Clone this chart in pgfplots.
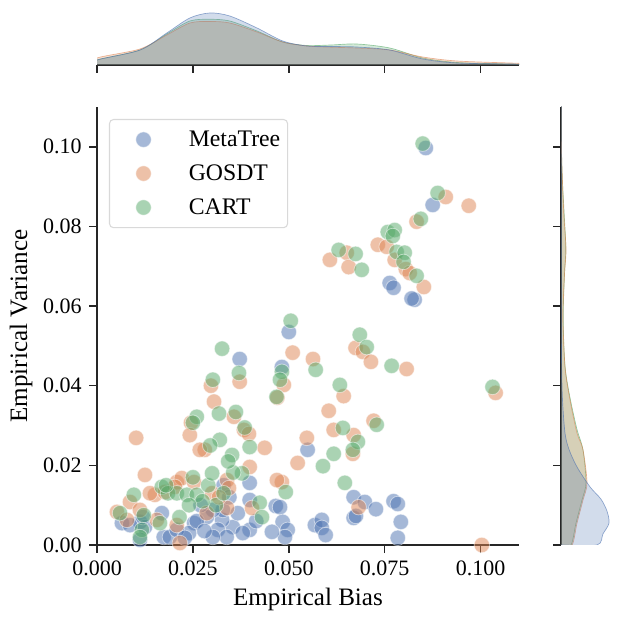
\documentclass[border=0pt]{standalone}
\usepackage{fontspec}
\setmainfont{Liberation Serif}
\usepackage{pgfplots}
\pgfplotsset{compat=1.18}
\definecolor{sbblue}{RGB}{76,114,176}
\definecolor{sborange}{RGB}{221,132,82}
\definecolor{sbgreen}{RGB}{85,168,104}
\definecolor{spine}{RGB}{38,38,38}
\newcommand{\fnt}{\fontsize{16.5}{19}\selectfont}
\newcommand{\lfnt}{\fontsize{18.8}{22}\selectfont}
\newcommand{\gfnt}{\fontsize{17.8}{21}\selectfont}
\pgfplotsset{
  sbspine/.style={axis line style={-, line width=1.1pt, spine}, tick style={line width=1.1pt, spine}, major tick length=6pt, tick align=outside},
  pts/.style={only marks, mark=*, mark size=5.8pt, mark options={fill=#1, draw=white, line width=0.6pt, opacity=0.5}},
  kde/.style={draw=#1, line width=0.5pt, draw opacity=0.6, fill=#1, fill opacity=0.25, smooth, tension=0.5},
}
\begin{document}
\begin{tikzpicture}
\useasboundingbox (0,0) rectangle (467.25pt,467.25pt);
\begin{axis}[at={(72.75pt,58.5pt)}, anchor=south west, scale only axis,
  width=316.5pt, height=328.5pt, xmin=0, xmax=0.11, ymin=0, ymax=0.11,
  axis x line*=bottom, axis y line*=left, sbspine,
  xtick={0,0.025,0.05,0.075,0.1}, xticklabels={0.000,0.025,0.050,0.075,0.100},
  ytick={0,0.02,0.04,0.06,0.08,0.1}, yticklabels={0.00,0.02,0.04,0.06,0.08,0.10},
  tick label style={font=\fnt},
  xticklabel style={yshift=-2.5pt}, yticklabel style={xshift=-2pt},
  label style={font=\lfnt},
  xlabel={Empirical Bias}, ylabel={Empirical Variance},
  xlabel style={at={(axis description cs:0.5,-0.1233)}, anchor=center},
  ylabel style={at={(axis description cs:-0.180,0.5)}, anchor=center},
  legend cell align=left,
  legend image code/.code={\path[draw=none,fill=none] (0pt,-6pt) rectangle (54pt,6pt); \draw[#1] plot coordinates {(22pt,0pt)};},
  legend style={at={(0.0284,0.9726)}, anchor=north west, draw=black!15, line width=0.8pt, rounded corners=3pt, font=\gfnt, inner xsep=3.5pt, inner ysep=6.5pt, row sep=8.2pt},
]
\addplot[pts=sbblue] coordinates {
(0.0857,0.0997) (0.0875,0.0854) (0.0763,0.0658) (0.0773,0.0646) (0.0828,0.0616) (0.0820,0.0619)
(0.0372,0.0467) (0.0500,0.0535) (0.0482,0.0447) (0.0549,0.0239) (0.0398,0.0156) (0.0466,0.0098)
(0.0669,0.0120) (0.0698,0.0108) (0.0727,0.0090) (0.0669,0.0068) (0.0675,0.0073) (0.0773,0.0110)
(0.0784,0.0103) (0.0792,0.0058) (0.0784,0.0018) (0.0477,0.0095) (0.0484,0.0058) (0.0497,0.0038)
(0.0490,0.0020) (0.0568,0.0050) (0.0586,0.0063) (0.0586,0.0043) (0.0596,0.0025) (0.0456,0.0033)
(0.0354,0.0045) (0.0398,0.0038) (0.0380,0.0030) (0.0326,0.0063) (0.0315,0.0038) (0.0338,0.0020)
(0.0302,0.0020) (0.0328,0.0088) (0.0367,0.0080) (0.0302,0.0088) (0.0286,0.0070) (0.0398,0.0113)
(0.0330,0.0150) (0.0253,0.0055) (0.0240,0.0030) (0.0174,0.0020) (0.0190,0.0020) (0.0208,0.0038)
(0.0229,0.0018) (0.0169,0.0080) (0.0112,0.0058) (0.0125,0.0045) (0.0065,0.0055) (0.0086,0.0050)
(0.0120,0.0070) (0.0270,0.0100) (0.0260,0.0060) (0.0345,0.0120) (0.0112,0.0013) (0.0415,0.0060)
(0.0280,0.0035)
};
\addlegendentry{MetaTree}
\addplot[pts=sborange] coordinates {
(0.0909,0.0874) (0.0969,0.0852) (0.0833,0.0812) (0.0732,0.0754) (0.0755,0.0749) (0.0776,0.0716)
(0.0805,0.0693) (0.0815,0.0683) (0.0852,0.0648) (0.0651,0.0734) (0.0607,0.0716) (0.0656,0.0698)
(0.0510,0.0483) (0.0674,0.0495) (0.0693,0.0485) (0.0714,0.0460) (0.0807,0.0442) (0.0563,0.0467)
(0.0487,0.0402) (0.0470,0.0370) (0.0643,0.0374) (0.0604,0.0337) (0.0721,0.0312) (0.0617,0.0289)
(0.0547,0.0269) (0.0669,0.0276) (0.0667,0.0229) (0.0523,0.0206) (0.0482,0.0158) (0.0682,0.0095)
(0.1003,0.0000) (0.1039,0.0382) (0.0372,0.0410) (0.0297,0.0400) (0.0305,0.0360) (0.0357,0.0322)
(0.0245,0.0307) (0.0383,0.0289) (0.0396,0.0279) (0.0242,0.0276) (0.0102,0.0269) (0.0437,0.0244)
(0.0281,0.0239) (0.0268,0.0239) (0.0398,0.0196) (0.0404,0.0093) (0.0469,0.0163) (0.0125,0.0176)
(0.0052,0.0083) (0.0078,0.0063) (0.0086,0.0108) (0.0112,0.0088) (0.0151,0.0126) (0.0138,0.0130)
(0.0177,0.0133) (0.0208,0.0158) (0.0221,0.0168) (0.0253,0.0158) (0.0208,0.0050) (0.0216,0.0005)
(0.0339,0.0163) (0.0344,0.0143) (0.0339,0.0093) (0.0286,0.0080) (0.0156,0.0063) (0.0203,0.0146)
(0.0300,0.0130) (0.0318,0.0120)
};
\addlegendentry{GOSDT}
\addplot[pts=sbgreen] coordinates {
(0.0849,0.1008) (0.0888,0.0884) (0.0844,0.0819) (0.0758,0.0786) (0.0776,0.0791) (0.0771,0.0776)
(0.0781,0.0736) (0.0802,0.0734) (0.0799,0.0711) (0.0833,0.0676) (0.0630,0.0741) (0.0674,0.0731)
(0.0690,0.0691) (0.0505,0.0563) (0.0685,0.0528) (0.0703,0.0497) (0.0768,0.0450) (0.0570,0.0440)
(0.0482,0.0435) (0.0477,0.0415) (0.0468,0.0372) (0.0633,0.0402) (0.0729,0.0302) (0.0641,0.0294)
(0.0680,0.0259) (0.0667,0.0239) (0.0617,0.0229) (0.0589,0.0198) (0.0492,0.0133) (0.0646,0.0156)
(0.1031,0.0397) (0.0326,0.0493) (0.0370,0.0432) (0.0302,0.0415) (0.0318,0.0330) (0.0362,0.0334)
(0.0260,0.0322) (0.0250,0.0307) (0.0320,0.0264) (0.0385,0.0295) (0.0352,0.0226) (0.0398,0.0246)
(0.0378,0.0180) (0.0355,0.0182) (0.0424,0.0106) (0.0430,0.0070) (0.0096,0.0126) (0.0060,0.0080)
(0.0122,0.0075) (0.0117,0.0038) (0.0112,0.0020) (0.0164,0.0055) (0.0169,0.0146) (0.0185,0.0130)
(0.0208,0.0130) (0.0234,0.0126) (0.0260,0.0126) (0.0180,0.0150) (0.0250,0.0170) (0.0290,0.0150)
(0.0300,0.0180) (0.0310,0.0100) (0.0275,0.0110) (0.0330,0.0130) (0.0295,0.0250) (0.0342,0.0210)
(0.0215,0.0070) (0.0240,0.0100)
};
\addlegendentry{CART}
\end{axis}
% top marginal
\begin{axis}[at={(72.75pt,418.5pt)}, anchor=south west, scale only axis,
  width=316.5pt, height=48.75pt, xmin=0, xmax=0.11, ymin=0, ymax=65,
  axis x line*=bottom, hide y axis, sbspine,
  xtick={0,0.025,0.05,0.075,0.1}, xticklabels={}]
\addplot[kde=sbgreen] coordinates {(0,0) (0,5) (0.0112,15) (0.0182,31) (0.0242,44) (0.0294,45.7) (0.0346,44) (0.0417,34) (0.0484,23) (0.0547,19.5) (0.0610,20) (0.0677,21) (0.0763,17) (0.0849,7) (0.0938,2.5) (0.1076,1) (0.11,0.8) (0.11,0)};
\addplot[kde=sborange] coordinates {(0,0) (0,7) (0.0112,16) (0.0182,30) (0.0242,42) (0.0294,43.5) (0.0346,42) (0.0417,33) (0.0484,23) (0.0547,19) (0.0610,17.8) (0.0677,17) (0.0763,15) (0.0849,8) (0.0938,4) (0.1076,2) (0.11,1.7) (0.11,0)};
\addplot[kde=sbblue] coordinates {(0,0) (0,5) (0.0112,15) (0.0182,32) (0.0242,47) (0.0294,52) (0.0346,49) (0.0417,37) (0.0484,24) (0.0547,19) (0.0610,18.5) (0.0677,18) (0.0763,15) (0.0849,6) (0.0938,2) (0.1076,1) (0.11,0.8) (0.11,0)};
\end{axis}
% right marginal
\begin{axis}[at={(420.75pt,58.5pt)}, anchor=south west, scale only axis,
  width=46.5pt, height=328.5pt, xmin=0, xmax=62, ymin=0, ymax=0.11,
  axis y line*=left, hide x axis, sbspine,
  ytick={0,0.02,0.04,0.06,0.08,0.1}, yticklabels={}]
\addplot[kde=sbgreen] coordinates {(0,0) (10,0) (15,0.0055) (21,0.0113) (25,0.0156) (22,0.0239) (16,0.0290) (9,0.0370) (4,0.0450) (2.2,0.057) (3.5,0.068) (4.8,0.0745) (3.2,0.083) (1.5,0.091) (0.5,0.099) (0.2,0.11) (0,0.11)};
\addplot[kde=sborange] coordinates {(0,0) (11,0) (16,0.0055) (22,0.0113) (26,0.0156) (22,0.0239) (16,0.0281) (9,0.0364) (4,0.0447) (2,0.0573) (3.5,0.0680) (5,0.0741) (3,0.0824) (1.5,0.091) (0.5,0.0992) (0.2,0.11) (0,0.11)};
\addplot[kde=sbblue] coordinates {(0,0) (36,0) (42,0.0028) (48,0.0055) (46,0.0085) (40,0.0115) (29,0.0146) (16,0.0196) (8,0.0240) (4,0.0281) (1.5,0.0364) (0.6,0.045) (0.3,0.06) (0.2,0.11) (0,0.11)};
\end{axis}
\end{tikzpicture}
\end{document}
